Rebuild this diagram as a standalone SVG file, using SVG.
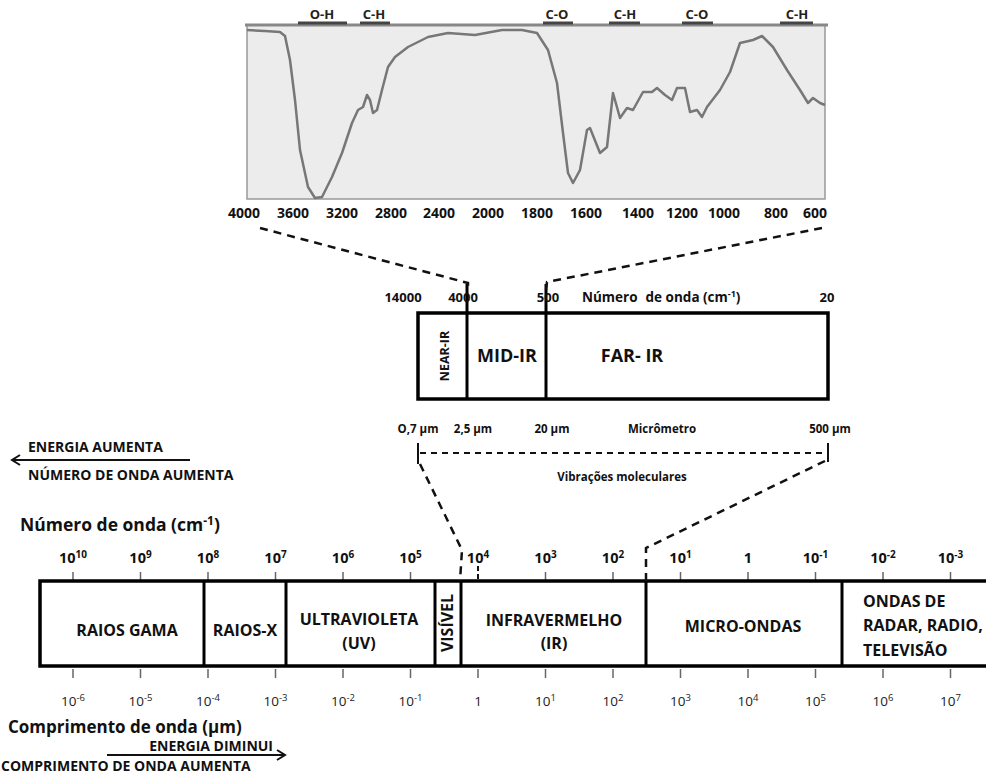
<svg xmlns="http://www.w3.org/2000/svg" width="986" height="784" viewBox="0 0 986 784">
<style>
text{font-family:"Open Sans","Liberation Sans",sans-serif;fill:#111}
.b{font-weight:bold}
.grp{font-size:13px;font-weight:bold;fill:#222;text-anchor:middle}
.ax{font-size:14px;font-weight:bold;text-anchor:middle}
.box{fill:#fff;stroke:#000;stroke-width:3.5}
.div{stroke:#000;stroke-width:3}
.dash{fill:none;stroke:#111;stroke-width:2.5;stroke-dasharray:8 6}
.tk{stroke:#666;stroke-width:1.5}
.tl{font-size:14.5px;font-weight:bold;text-anchor:middle}
.bl{font-size:13.5px;text-anchor:middle;fill:#222}
.lab{font-size:16px;font-weight:bold;text-anchor:middle}
.labl{font-size:16px;font-weight:bold}
.sm{font-size:11.5px;font-weight:bold;text-anchor:middle}
</style>
<defs>
<marker id="arr" markerWidth="12" markerHeight="12" refX="10" refY="6" orient="auto" markerUnits="userSpaceOnUse">
<path d="M2,1 L10,6 L2,11" fill="none" stroke="#111" stroke-width="2"/>
</marker>
</defs>

<g id="spectrum">
<rect x="247" y="25" width="578" height="174" fill="#ececec" stroke="#999" stroke-width="1.5"/>
<line x1="245" y1="25" x2="828" y2="25" stroke="#888" stroke-width="3"/>
<g stroke="#444" stroke-width="3">
<line x1="298" y1="23" x2="347" y2="23"/>
<line x1="360" y1="23" x2="390" y2="23"/>
<line x1="543" y1="23" x2="573" y2="23"/>
<line x1="609" y1="23" x2="640" y2="23"/>
<line x1="682" y1="23" x2="713" y2="23"/>
<line x1="780" y1="23" x2="813" y2="23"/>
</g>
<text class="grp" x="322" y="19">O-H</text>
<text class="grp" x="374" y="19">C-H</text>
<text class="grp" x="557" y="19">C-O</text>
<text class="grp" x="625" y="19">C-H</text>
<text class="grp" x="697" y="19">C-O</text>
<text class="grp" x="797" y="19">C-H</text>
<path fill="none" stroke="#777" stroke-width="2.5" stroke-linejoin="round" d="M247,30 L265,31 L280,32 L285,36 L290,60 L295,100 L300,150 L308,187 L315,198 L322,197 L332,177 L342,153 L352,123 L358,110 L363,107 L367,95 L370,100 L373,113 L377,110 L382,90 L388,67 L395,57 L408,47 L428,37 L448,33 L475,35 L502,30 L522,30 L537,33 L548,50 L557,83 L563,133 L568,173 L573,183 L580,170 L587,130 L590,128 L600,153 L607,147 L613,93 L620,118 L627,108 L633,110 L643,92 L652,92 L657,88 L665,95 L672,100 L677,88 L685,88 L690,112 L697,110 L702,117 L707,107 L720,90 L730,72 L740,43 L753,40 L762,36 L773,47 L787,70 L800,90 L808,103 L813,98 L820,103 L825,105"/>
<text class="ax" x="244" y="218">4000</text>
<text class="ax" x="293" y="218">3600</text>
<text class="ax" x="342" y="218">3200</text>
<text class="ax" x="391" y="218">2800</text>
<text class="ax" x="439" y="218">2400</text>
<text class="ax" x="488" y="218">2000</text>
<text class="ax" x="537" y="218">1800</text>
<text class="ax" x="586" y="218">1600</text>
<text class="ax" x="638" y="218">1400</text>
<text class="ax" x="682" y="218">1200</text>
<text class="ax" x="724" y="218">1000</text>
<text class="ax" x="776" y="218">800</text>
<text class="ax" x="815" y="218">600</text>
</g>

<g id="ir-regions">
<rect class="box" x="418" y="313" width="410" height="86" stroke-width="3"/>
<line class="div" x1="467" y1="284" x2="467" y2="399"/>
<line class="div" x1="546" y1="284" x2="546" y2="399"/>
<text class="b" x="403" y="302" font-size="13" text-anchor="middle">14000</text>
<text class="b" x="463" y="302" font-size="13" text-anchor="middle">4000</text>
<text class="b" x="548" y="302" font-size="13" text-anchor="middle">500</text>
<text class="b" x="582" y="302" font-size="13.5">Número<tspan dx="8">de onda (cm</tspan><tspan font-size="9" dy="-5">-1</tspan><tspan dy="5">)</tspan></text>
<text class="b" x="827" y="302" font-size="13" text-anchor="middle">20</text>
<text class="b" transform="translate(449,356) rotate(-90)" font-size="12.5" text-anchor="middle">NEAR-IR</text>
<text class="b" x="507" y="362" font-size="18" text-anchor="middle">MID-IR</text>
<text class="b" x="632" y="362" font-size="18" text-anchor="middle">FAR- IR</text>
</g>

<g id="micrometro">
<text class="sm" x="418" y="433">O,7 µm</text>
<text class="sm" x="473" y="433">2,5 µm</text>
<text class="sm" x="552" y="433">20 µm</text>
<text class="sm" x="662" y="433">Micrômetro</text>
<text class="sm" x="830" y="433">500 µm</text>
<line x1="418" y1="443" x2="418" y2="464" stroke="#111" stroke-width="2"/>
<line x1="828" y1="443" x2="828" y2="462" stroke="#111" stroke-width="2"/>
<line x1="420" y1="453" x2="826" y2="453" stroke="#111" stroke-width="2" stroke-dasharray="6 5"/>
<text class="sm" x="622" y="481" font-size="10.5">Vibrações moleculares</text>
</g>

<g id="arrow-top">
<line x1="190" y1="460" x2="12" y2="460" stroke="#111" stroke-width="2" marker-end="url(#arr)"/>
<text class="b" x="28" y="452" font-size="14">ENERGIA AUMENTA</text>
<text class="b" x="28" y="480" font-size="14">NÚMERO DE ONDA AUMENTA</text>
</g>

<g id="title-wavenumber">
<text class="b" x="20" y="531" font-size="17.5">Número de onda (cm<tspan font-size="12" dy="-6">-1</tspan><tspan dy="6">)</tspan></text>
</g>

<g id="em-spectrum">
<g class="tk">
<line x1="73" y1="572" x2="73" y2="581"/><line x1="140.5" y1="572" x2="140.5" y2="581"/><line x1="208" y1="572" x2="208" y2="581"/><line x1="275.5" y1="572" x2="275.5" y2="581"/><line x1="343" y1="572" x2="343" y2="581"/><line x1="410.5" y1="572" x2="410.5" y2="581"/><line x1="545.5" y1="572" x2="545.5" y2="581"/><line x1="613" y1="572" x2="613" y2="581"/><line x1="680.5" y1="572" x2="680.5" y2="581"/><line x1="748" y1="572" x2="748" y2="581"/><line x1="815.5" y1="572" x2="815.5" y2="581"/><line x1="883" y1="572" x2="883" y2="581"/><line x1="950.5" y1="572" x2="950.5" y2="581"/>
<line x1="73" y1="669" x2="73" y2="678"/><line x1="140.5" y1="669" x2="140.5" y2="678"/><line x1="208" y1="669" x2="208" y2="678"/><line x1="275.5" y1="669" x2="275.5" y2="678"/><line x1="343" y1="669" x2="343" y2="678"/><line x1="410.5" y1="669" x2="410.5" y2="678"/><line x1="478" y1="669" x2="478" y2="678"/><line x1="545.5" y1="669" x2="545.5" y2="678"/><line x1="613" y1="669" x2="613" y2="678"/><line x1="680.5" y1="669" x2="680.5" y2="678"/><line x1="748" y1="669" x2="748" y2="678"/><line x1="815.5" y1="669" x2="815.5" y2="678"/><line x1="883" y1="669" x2="883" y2="678"/><line x1="950.5" y1="669" x2="950.5" y2="678"/>
</g>
<line x1="478" y1="566" x2="478" y2="589" stroke="#111" stroke-width="2" stroke-dasharray="5 3"/>
<path d="M990,581 H40 V666 H990" fill="#fff" stroke="#000" stroke-width="3.5"/>
<line class="div" x1="204" y1="581" x2="204" y2="666"/>
<line class="div" x1="286" y1="581" x2="286" y2="666"/>
<line class="div" x1="435" y1="581" x2="435" y2="666"/>
<line class="div" x1="461" y1="581" x2="461" y2="666"/>
<line class="div" x1="646" y1="581" x2="646" y2="666"/>
<line class="div" x1="842" y1="581" x2="842" y2="666"/>

<text class="tl" x="73" y="563">10<tspan font-size="10" dy="-5">10</tspan></text>
<text class="tl" x="140.5" y="563">10<tspan font-size="10" dy="-5">9</tspan></text>
<text class="tl" x="208" y="563">10<tspan font-size="10" dy="-5">8</tspan></text>
<text class="tl" x="275.5" y="563">10<tspan font-size="10" dy="-5">7</tspan></text>
<text class="tl" x="343" y="563">10<tspan font-size="10" dy="-5">6</tspan></text>
<text class="tl" x="410.5" y="563">10<tspan font-size="10" dy="-5">5</tspan></text>
<text class="tl" x="478" y="563">10<tspan font-size="10" dy="-5">4</tspan></text>
<text class="tl" x="545.5" y="563">10<tspan font-size="10" dy="-5">3</tspan></text>
<text class="tl" x="613" y="563">10<tspan font-size="10" dy="-5">2</tspan></text>
<text class="tl" x="680.5" y="563">10<tspan font-size="10" dy="-5">1</tspan></text>
<text class="tl" x="748" y="563">1</text>
<text class="tl" x="815.5" y="563">10<tspan font-size="10" dy="-5">-1</tspan></text>
<text class="tl" x="883" y="563">10<tspan font-size="10" dy="-5">-2</tspan></text>
<text class="tl" x="950.5" y="563">10<tspan font-size="10" dy="-5">-3</tspan></text>

<text class="bl" x="73" y="706">10<tspan font-size="9.5" dy="-5">-6</tspan></text>
<text class="bl" x="140.5" y="706">10<tspan font-size="9.5" dy="-5">-5</tspan></text>
<text class="bl" x="208" y="706">10<tspan font-size="9.5" dy="-5">-4</tspan></text>
<text class="bl" x="275.5" y="706">10<tspan font-size="9.5" dy="-5">-3</tspan></text>
<text class="bl" x="343" y="706">10<tspan font-size="9.5" dy="-5">-2</tspan></text>
<text class="bl" x="410.5" y="706">10<tspan font-size="9.5" dy="-5">-1</tspan></text>
<text class="bl" x="478" y="706">1</text>
<text class="bl" x="545.5" y="706">10<tspan font-size="9.5" dy="-5">1</tspan></text>
<text class="bl" x="613" y="706">10<tspan font-size="9.5" dy="-5">2</tspan></text>
<text class="bl" x="680.5" y="706">10<tspan font-size="9.5" dy="-5">3</tspan></text>
<text class="bl" x="748" y="706">10<tspan font-size="9.5" dy="-5">4</tspan></text>
<text class="bl" x="815.5" y="706">10<tspan font-size="9.5" dy="-5">5</tspan></text>
<text class="bl" x="883" y="706">10<tspan font-size="9.5" dy="-5">6</tspan></text>
<text class="bl" x="950.5" y="706">10<tspan font-size="9.5" dy="-5">7</tspan></text>
</g>

<g id="raios-gama"><text class="lab" x="127" y="636">RAIOS GAMA</text></g>
<g id="raios-x"><text class="lab" x="245" y="636">RAIOS-X</text></g>
<g id="ultravioleta"><text class="lab" x="359" y="625">ULTRAVIOLETA</text><text class="lab" x="359" y="649">(UV)</text></g>
<g id="visivel"><text class="lab" transform="translate(453,623) rotate(-90)" font-size="13.5">VISÍVEL</text></g>
<g id="infravermelho"><text class="lab" x="554" y="626">INFRAVERMELHO</text><text class="lab" x="554" y="649">(IR)</text></g>
<g id="micro-ondas"><text class="lab" x="743" y="632">MICRO-ONDAS</text></g>
<g id="radio"><text class="labl" x="863" y="607">ONDAS DE</text><text class="labl" x="863" y="631">RADAR, RADIO,</text><text class="labl" x="863" y="656">TELEVISÃO</text></g>

<g id="title-wavelength">
<text class="b" x="8" y="733" font-size="17">Comprimento de onda (µm)</text>
</g>

<g id="arrow-bottom">
<line x1="107" y1="755" x2="285" y2="755" stroke="#111" stroke-width="2" marker-end="url(#arr)"/>
<text class="b" x="273" y="751" font-size="14" text-anchor="end">ENERGIA DIMINUI</text>
<text class="b" x="1" y="771" font-size="14">COMPRIMENTO DE ONDA AUMENTA</text>
</g>

<g id="connectors">
<polyline class="dash" points="260,228 468,283 468,290"/>
<polyline class="dash" points="822,228 547,282 546,290"/>
<polyline class="dash" points="420,464 462,550 460,581"/>
<polyline class="dash" points="825,461 646,548 646,581"/>
</g>
</svg>
